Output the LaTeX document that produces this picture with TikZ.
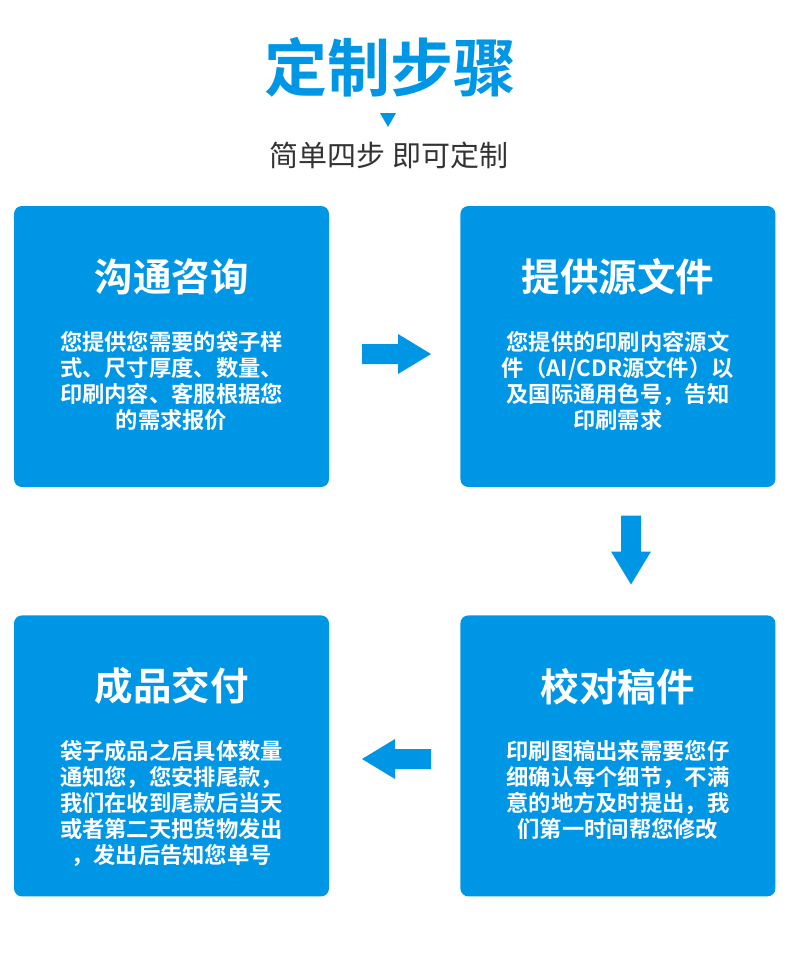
\documentclass[tikz,border=0pt]{standalone}
\usepackage{fontspec}
\setmainfont{Noto Sans CJK SC}
\newfontfamily\cjkbold{Noto Sans CJK SC Bold}
\usetikzlibrary{positioning}
\definecolor{stepblue}{RGB}{0,150,230}
\definecolor{subgray}{RGB}{51,51,51}

\tikzset{
    stepbox/.style={fill=stepblue, rounded corners=8pt, minimum width=315pt, minimum height=281pt, inner sep=0},
    steptitle/.style={text=white, font=\cjkbold\fontsize{38.5}{40}\selectfont, inner sep=0},
    stepbody/.style={text=white, font=\cjkbold\fontsize{22.3}{26}\selectfont, align=center, inner sep=0, anchor=north},
    steparrow/.pic={
        \fill[stepblue] (-34.5,-10) -- (1.5,-10) -- (1.5,-20) -- (34.5,0)
            -- (1.5,20) -- (1.5,10) -- (-34.5,10) -- cycle;
    }
}

\begin{document}
\begin{tikzpicture}[x=1pt,y=-1pt]
    \useasboundingbox (0,0) rectangle (790,961);
    % heading
    \node[text=stepblue, font=\cjkbold\fontsize{63}{64}\selectfont, inner sep=0] (head) at (390,67) {定制步骤};
    \fill[stepblue] (380,113) -- (396,113) -- (388,127) -- cycle;
    \node[text=subgray, font=\fontsize{29}{30}\selectfont, inner sep=0] (sub) at (389,155) {简单四步 即可定制};
    % the four steps
    \node[stepbox] (talk) at (171.5,346.5) {};
    \node[stepbox, right=131pt of talk] (file) {};
    \node[stepbox, below=128pt of file] (proof) {};
    \node[stepbox, below=128pt of talk] (deliver) {};
    \node[steptitle, below=71pt of talk.north, anchor=center] (talkT) {沟通咨询};
    \node[steptitle, below=71pt of file.north, anchor=center] (fileT) {提供源文件};
    \node[steptitle, below=71pt of proof.north, anchor=center] (proofT) {校对稿件};
    \node[steptitle, below=71pt of deliver.north, anchor=center] (deliverT) {成品交付};
    \node[stepbody, below=125pt of talk.north] (talkB) {您提供您需要的袋子样\\式、尺寸厚度、数量、\\印刷内容、客服根据您\\的需求报价};
    \node[stepbody, below=125pt of file.north] (fileB) {您提供的印刷内容源文\\件（AI/CDR源文件）以\\及国际通用色号，告知\\印刷需求};
    \node[stepbody, below=125pt of proof.north] (proofB) {印刷图稿出来需要您仔\\细确认每个细节，不满\\意的地方及时提出，我\\们第一时间帮您修改};
    \node[stepbody, below=125pt of deliver.north] (deliverB) {袋子成品之后具体数量\\通知您，您安排尾款，\\我们在收到尾款后当天\\或者第二天把货物发出\\，发出后告知您单号};
    % arrows between steps
    \pic at (396.5,354) {steparrow};
    \pic[rotate=-90] at (631,550) {steparrow};
    \pic[rotate=180] at (396.5,759) {steparrow};
\end{tikzpicture}
\end{document}
